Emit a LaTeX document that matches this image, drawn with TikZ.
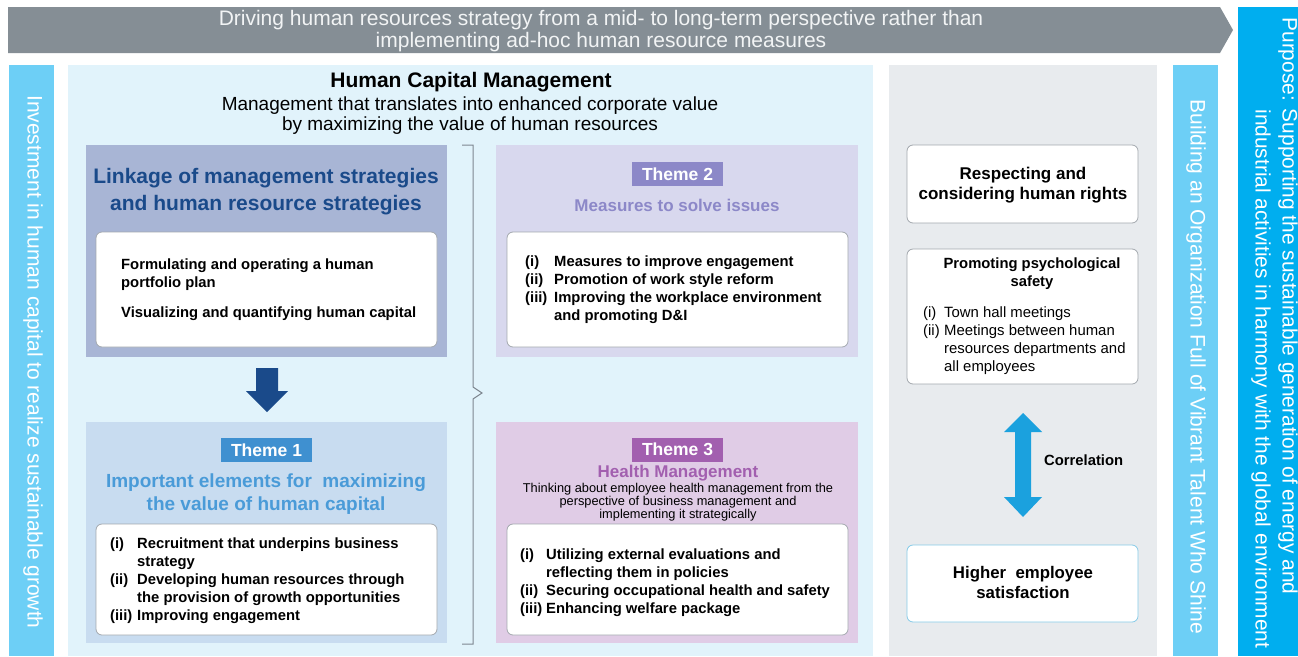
\documentclass[tikz,border=0pt]{standalone}
\usepackage{fontspec}
\setmainfont{Liberation Sans}
\definecolor{bannergray}{HTML}{858E95}
\definecolor{bannertext}{HTML}{F2F4F5}
\definecolor{purposeblue}{HTML}{00AEEF}
\definecolor{barblue}{HTML}{6DCFF6}
\definecolor{panelblue}{HTML}{E1F3FB}
\definecolor{panelgray}{HTML}{E8EBEE}
\definecolor{boxAfill}{HTML}{A8B5D5}
\definecolor{navy}{HTML}{1A4A8A}
\definecolor{tonefill}{HTML}{C8DCF0}
\definecolor{tonelabel}{HTML}{3F90D0}
\definecolor{tonetitle}{HTML}{4A9BD8}
\definecolor{ttwofill}{HTML}{D8D8EE}
\definecolor{ttwolabel}{HTML}{8C88C8}
\definecolor{tthreefill}{HTML}{E0CCE6}
\definecolor{tthreelabel}{HTML}{A25FAF}
\definecolor{boxborder}{HTML}{A3A8AE}
\definecolor{cyanborder}{HTML}{86CBE8}
\definecolor{arrowcyan}{HTML}{1BA1DE}
\definecolor{bracketgray}{HTML}{7E8790}
\newcommand\myfs[2]{\fontsize{#1}{#2}\selectfont}
\begin{document}
\begin{tikzpicture}[x=1pt,y=-1pt,
  panel/.style={inner sep=0pt, outer sep=0pt, anchor=north west},
  whitebox/.style={panel, fill=white, draw=boxborder, line width=0.8pt, rounded corners=6pt},
  themelabel/.style={inner sep=0pt, minimum width=91pt, minimum height=24pt, text=white, font=\bfseries\myfs{17.5}{18}},
  listtext/.style={inner sep=0pt, anchor=north west, font=\bfseries\myfs{14.8}{18}},
  bartext/.style={rotate=-90, inner sep=0pt, text=white, font=\myfs{21}{22}}
]
\useasboundingbox (0,0) rectangle (1298,656);
\fill[white] (0,0) rectangle (1298,656);

% banner
\fill[bannergray] (8,7) -- (1220,7) -- (1233,30) -- (1220,53) -- (8,53) -- cycle;
\node[inner sep=0pt, align=center, text=bannertext, font=\myfs{21}{21.5}] (banner) at (601,31)
  {Driving human resources strategy from a mid- to long-term perspective rather than\\implementing ad-hoc human resource measures};

% side bars
\node[panel, fill=purposeblue, minimum width=60pt, minimum height=649pt] (purposebar) at (1238,7) {};
\node[bartext, font=\myfs{20.9}{22}] (purpose1) at (1288,306) {Purpose: Supporting the sustainable generation of energy and};
\node[bartext, font=\myfs{20.9}{22}] (purpose2) at (1261,379) {industrial activities in harmony with the global environment};

\node[panel, fill=barblue, minimum width=45pt, minimum height=591pt] (leftbar) at (9,65) {};
\node[bartext] (lefttext) at (33,362) {Investment in human capital to realize sustainable growth};

\node[panel, fill=barblue, minimum width=45pt, minimum height=591pt] (rightbar) at (1173,65) {};
\node[bartext] (righttext) at (1196,367) {Building an Organization Full of Vibrant Talent Who Shine};

% main panels
\node[panel, fill=panelblue, minimum width=805pt, minimum height=591pt] (mainpanel) at (68,65) {};
\node[panel, fill=panelgray, minimum width=268pt, minimum height=591pt] (graypanel) at (889,65) {};

\node[inner sep=0pt, font=\bfseries\myfs{21}{22}] (hcmtitle) at (471,82) {Human Capital Management};
\node[inner sep=0pt, align=center, font=\myfs{19}{20}] (hcmsub) at (470,116)
  {Management that translates into enhanced corporate value\\by maximizing the value of human resources};

% Box A
\node[panel, fill=boxAfill, minimum width=361pt, minimum height=212pt] (boxA) at (86,145) {};
\node[inner sep=0pt, align=center, text=navy, font=\bfseries\myfs{21}{27}] (boxAtitle) at (266,192)
  {Linkage of management strategies\\and human resource strategies};
\node[whitebox, minimum width=341pt, minimum height=115pt] (boxAin) at (96,232) {};
\node[listtext] (boxAlist) at (121,257)
  {\begin{tabular}{@{}l@{}}Formulating and operating a human\\portfolio plan\\[12pt]Visualizing and quantifying human capital\end{tabular}};

% down arrow
\fill[navy] (256,368) -- (278,368) -- (278,391) -- (288,391) -- (267,412) -- (246,391) -- (256,391) -- cycle;

% Theme 1
\node[panel, fill=tonefill, minimum width=361pt, minimum height=221pt] (theme1) at (86,422) {};
\node[themelabel, fill=tonelabel] (t1label) at (266.5,450) {Theme 1};
\node[inner sep=0pt, align=center, text=tonetitle, font=\bfseries\myfs{19}{23}] (t1title) at (266,494)
  {Important elements for \ maximizing\\the value of human capital};
\node[whitebox, minimum width=341pt, minimum height=111pt] (t1in) at (96,524) {};
\node[listtext] (t1list) at (110,536)
  {\begin{tabular}{@{}p{27pt}@{}l@{}}(i) & Recruitment that underpins business\\ & strategy\\(ii) & Developing human resources through\\ & the provision of growth opportunities\\(iii) & Improving engagement\end{tabular}};

% bracket
\draw[bracketgray, line width=1pt] (462,145) -- (473,145) -- (473,387) -- (482,393) -- (473,399) -- (473,644) -- (462,644);

% Theme 2
\node[panel, fill=ttwofill, minimum width=362pt, minimum height=212pt] (theme2) at (496,145) {};
\node[themelabel, fill=ttwolabel] (t2label) at (677.5,174) {Theme 2};
\node[inner sep=0pt, text=ttwolabel, font=\bfseries\myfs{17}{18}] (t2title) at (677,205) {Measures to solve issues};
\node[whitebox, minimum width=341pt, minimum height=115pt] (t2in) at (507,232) {};
\node[listtext] (t2list) at (525,254)
  {\begin{tabular}{@{}p{29pt}@{}l@{}}(i) & Measures to improve engagement\\(ii) & Promotion of work style reform\\(iii) & Improving the workplace environment\\ & and promoting D\&I\end{tabular}};

% Theme 3
\node[panel, fill=tthreefill, minimum width=362pt, minimum height=221pt] (theme3) at (496,422) {};
\node[themelabel, fill=tthreelabel] (t3label) at (677.5,449.5) {Theme 3};
\node[inner sep=0pt, text=tthreelabel, font=\bfseries\myfs{17}{18}] (t3title) at (678,473) {Health Management};
\node[inner sep=0pt, align=center, font=\myfs{12.8}{13}] (t3desc) at (678,502)
  {Thinking about employee health management from the\\perspective of business management and\\implementing it strategically};
\node[whitebox, minimum width=341pt, minimum height=111pt] (t3in) at (507,524) {};
\node[listtext] (t3list) at (520,547)
  {\begin{tabular}{@{}p{26pt}@{}l@{}}(i) & Utilizing external evaluations and\\ & reflecting them in policies\\(ii) & Securing occupational health and safety\\(iii) & Enhancing welfare package\end{tabular}};

% right column
\node[whitebox, minimum width=231pt, minimum height=78pt] (r1) at (907,145) {};
\node[inner sep=0pt, align=center, font=\bfseries\myfs{17}{20}] (r1text) at (1023,185)
  {Respecting and\\considering human rights};
\node[whitebox, minimum width=231pt, minimum height=135pt] (r2) at (907,249) {};
\node[inner sep=0pt, align=center, font=\bfseries\myfs{14.8}{18}] (r2title) at (1032,274)
  {Promoting psychological\\safety};
\node[listtext, font=\myfs{14.9}{18}] (r2list) at (923,305)
  {\begin{tabular}{@{}p{21pt}@{}l@{}}(i) & Town hall meetings\\(ii) & Meetings between human\\ & resources departments and\\ & all employees\end{tabular}};

\fill[arrowcyan] (1023,413) -- (1042,432) -- (1031,432) -- (1031,497) -- (1042,497) -- (1023,517)
  -- (1004,497) -- (1015,497) -- (1015,432) -- (1004,432) -- cycle;
\node[inner sep=0pt, anchor=west, font=\bfseries\myfs{14.8}{16}] (corr) at (1044,460) {Correlation};

\node[whitebox, draw=cyanborder, minimum width=231pt, minimum height=77pt] (r3) at (907,545) {};
\node[inner sep=0pt, align=center, font=\bfseries\myfs{16.8}{20}] (r3text) at (1023,582)
  {Higher\ \ employee\\satisfaction};
\end{tikzpicture}
\end{document}
